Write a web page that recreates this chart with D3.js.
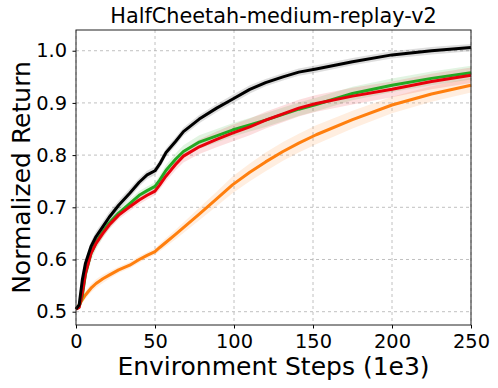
<!DOCTYPE html>
<html>
  <head>
    <script src="https://d3js.org/d3.v7.min.js"></script>
    <style>
      body { margin: 0; background: #fff; }
      text { font-family: "DejaVu Sans", sans-serif; fill: #000; }
    </style>
  </head>
  <body>
    <script>

      // environment steps (1e3)
      var steps = [0, 2, 4, 6, 9.5, 12.7, 17, 21, 27, 34, 40, 45, 50, 53, 57, 63, 68, 78, 89, 99, 110, 120, 131, 141, 152, 175, 200, 225, 250];

      var blackVals  = [0.505, 0.513, 0.561, 0.593, 0.625, 0.644, 0.663, 0.681, 0.704, 0.727, 0.748, 0.762, 0.770, 0.783, 0.805, 0.826, 0.845, 0.869, 0.890, 0.907, 0.926, 0.939, 0.950, 0.959, 0.965, 0.979, 0.992, 1.000, 1.006];
      var greenVals  = [0.505, 0.510, 0.530, 0.572, 0.612, 0.633, 0.653, 0.670, 0.689, 0.707, 0.723, 0.732, 0.740, 0.752, 0.771, 0.792, 0.807, 0.825, 0.837, 0.848, 0.858, 0.867, 0.878, 0.888, 0.897, 0.918, 0.934, 0.947, 0.958];
      var redVals    = [0.505, 0.508, 0.536, 0.574, 0.612, 0.631, 0.650, 0.666, 0.685, 0.701, 0.714, 0.723, 0.731, 0.743, 0.760, 0.782, 0.798, 0.816, 0.830, 0.842, 0.854, 0.867, 0.879, 0.890, 0.899, 0.913, 0.926, 0.941, 0.953];
      var orangeVals = [0.505, 0.513, 0.523, 0.532, 0.545, 0.554, 0.563, 0.570, 0.580, 0.589, 0.600, 0.608, 0.615, 0.623, 0.633, 0.648, 0.661, 0.687, 0.716, 0.743, 0.767, 0.787, 0.807, 0.823, 0.839, 0.868, 0.896, 0.917, 0.934];

      // half width of the shaded bands
      var blackStd  = [0.002, 0.004, 0.008, 0.009, 0.010, 0.010, 0.010, 0.010, 0.009, 0.009, 0.008, 0.008, 0.008, 0.008, 0.008, 0.008, 0.008, 0.008, 0.008, 0.008, 0.008, 0.007, 0.007, 0.007, 0.007, 0.007, 0.007, 0.007, 0.007];
      var greenStd  = [0.002, 0.004, 0.010, 0.014, 0.015, 0.014, 0.012, 0.011, 0.009, 0.008, 0.008, 0.008, 0.008, 0.009, 0.010, 0.011, 0.012, 0.013, 0.013, 0.013, 0.013, 0.013, 0.013, 0.013, 0.013, 0.013, 0.013, 0.013, 0.013];
      var redStd    = [0.002, 0.004, 0.008, 0.008, 0.008, 0.008, 0.008, 0.008, 0.008, 0.008, 0.008, 0.008, 0.008, 0.009, 0.010, 0.011, 0.012, 0.014, 0.015, 0.016, 0.016, 0.016, 0.016, 0.016, 0.016, 0.016, 0.015, 0.015, 0.015];
      var orangeStd = [0.002, 0.004, 0.006, 0.007, 0.008, 0.008, 0.008, 0.007, 0.006, 0.006, 0.006, 0.006, 0.006, 0.007, 0.008, 0.009, 0.010, 0.012, 0.014, 0.016, 0.017, 0.018, 0.018, 0.018, 0.018, 0.017, 0.016, 0.015, 0.014];

      var xTicks = [0, 50, 100, 150, 200, 250];
      var yTicks = [0.5, 0.6, 0.7, 0.8, 0.9, 1.0];

      var series = [
        {vals: orangeVals, std: orangeStd, color: "#ff7f0e"},
        {vals: greenVals,  std: greenStd,  color: "#22a822"},
        {vals: redVals,    std: redStd,    color: "#e8000b"},
        {vals: blackVals,  std: blackStd,  color: "#000000"}
      ];

      var margin = {top: 30, right: 27, bottom: 63, left: 76};
      var W = 498, H = 388;
      var w = W - margin.left - margin.right;
      var h = H - margin.top - margin.bottom;

      var svg = d3.select("body")
        .append("svg")
        .attr("width", W)
        .attr("height", H);

      var g = svg.append("g")
        .attr("transform", `translate(${margin.left},${margin.top})`);

      var x = d3.scaleLinear().domain([0, 250]).range([0, w]);
      var y = d3.scaleLinear().domain([0.4745, 1.0397]).range([h, 0]);

      // grid
      g.append("g").selectAll("line")
        .data(xTicks)
        .enter().append("line")
        .attr("x1", d => x(d)).attr("x2", d => x(d))
        .attr("y1", 0).attr("y2", h)
        .attr("stroke", "#b0b0b0").attr("stroke-width", 0.8)
        .attr("stroke-dasharray", "3,3");

      g.append("g").selectAll("line")
        .data(yTicks)
        .enter().append("line")
        .attr("x1", 0).attr("x2", w)
        .attr("y1", d => y(d)).attr("y2", d => y(d))
        .attr("stroke", "#b0b0b0").attr("stroke-width", 0.8)
        .attr("stroke-dasharray", "3,3");

      var area = d3.area()
        .x((d, i) => x(steps[i]))
        .y0(d => y(d[0] - d[1]))
        .y1(d => y(d[0] + d[1]));

      var line = d3.line()
        .x((d, i) => x(steps[i]))
        .y(d => y(d));

      var plot = g.append("g");

      series.forEach(function(s) {
        plot.append("path")
          .datum(s.vals.map((v, i) => [v, s.std[i]]))
          .attr("d", area)
          .attr("fill", s.color)
          .attr("fill-opacity", 0.13);
      });

      series.forEach(function(s) {
        plot.append("path")
          .datum(s.vals)
          .attr("d", line)
          .attr("fill", "none")
          .attr("stroke", s.color)
          .attr("stroke-width", 3)
          .attr("stroke-linejoin", "round");
      });

      // axes
      var xAxis = g.append("g")
        .attr("transform", `translate(0,${h})`)
        .call(d3.axisBottom(x).tickValues(xTicks).tickSize(3.5).tickPadding(5.5));
      xAxis.selectAll("text").style("font-size", "19.4px");

      var yAxis = g.append("g")
        .call(d3.axisLeft(y).tickValues(yTicks).tickFormat(d3.format(".1f")).tickSize(3.5).tickPadding(5.5));
      yAxis.selectAll("text").style("font-size", "19.4px");

      g.selectAll(".domain").remove();

      // frame
      g.append("rect")
        .attr("width", w).attr("height", h)
        .attr("fill", "none")
        .attr("stroke", "#222").attr("stroke-width", 1);

      svg.append("text")
        .attr("x", margin.left + w / 2)
        .attr("y", 22.5)
        .attr("text-anchor", "middle")
        .style("font-size", "20.8px")
        .text("HalfCheetah-medium-replay-v2");

      svg.append("text")
        .attr("x", margin.left + w / 2)
        .attr("y", 375)
        .attr("text-anchor", "middle")
        .style("font-size", "25px")
        .text("Environment Steps (1e3)");

      svg.append("text")
        .attr("transform", `translate(30,${margin.top + h / 2}) rotate(-90)`)
        .attr("text-anchor", "middle")
        .style("font-size", "25px")
        .text("Normalized Return");

    </script>
  </body>
</html>
